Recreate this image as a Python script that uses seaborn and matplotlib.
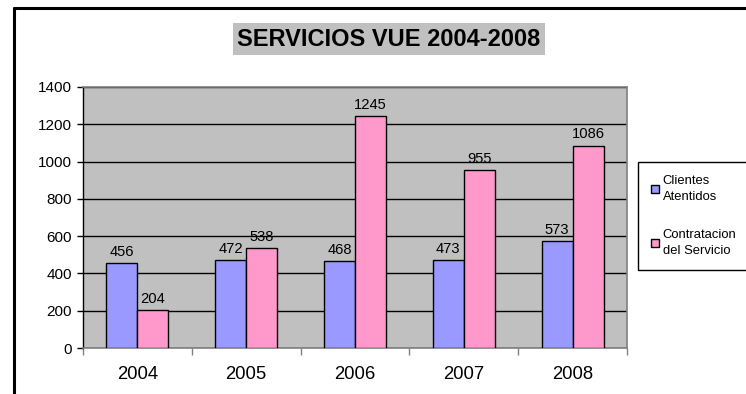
import pandas as pd
import matplotlib
matplotlib.use("Agg")
from matplotlib import pyplot as plt
from matplotlib.patches import Patch
from matplotlib.lines import Line2D
import seaborn as sns

years = ["2004", "2005", "2006", "2007", "2008"]
clientes = [456, 472, 468, 473, 573]
contratacion = [204, 538, 1245, 955, 1086]
series_names = ["Clientes\nAtentidos", "Contratacion\ndel Servicio"]
colors = ["#9999FF", "#FF99CC"]

df = pd.DataFrame({
    "year": years * 2,
    "value": clientes + contratacion,
    "serie": [series_names[0]] * 5 + [series_names[1]] * 5,
})

sns.set_style("white")
plt.rcParams["font.family"] = ["Liberation Sans", "DejaVu Sans"]
plt.rcParams["text.color"] = "black"
plt.rcParams["xtick.color"] = "black"
plt.rcParams["ytick.color"] = "black"

fig = plt.figure(figsize=(7.46, 3.94), dpi=100)
ax = fig.add_axes([83 / 746, 1 - 348 / 394, 544 / 746, 261 / 394])
ax.set_facecolor("#C0C0C0")

sns.barplot(data=df, x="year", y="value", hue="serie", palette=colors,
            saturation=1, width=0.57, edgecolor="black", linewidth=1,
            legend=False, ax=ax, zorder=3)

for c in ax.containers:
    ax.bar_label(c, padding=3, fontsize=10.6, color="black")

ax.set_ylim(0, 1400)
ax.set_yticks(range(0, 1401, 200))
ax.set_xlim(-0.5, 4.5)
ax.grid(axis="y", color="black", linewidth=1, zorder=0)
ax.set_axisbelow(True)
ax.set_xlabel("")
ax.set_ylabel("")

ax.tick_params(axis="y", labelsize=11, length=4, width=1, color="black",
               labelcolor="black", left=True, pad=4)
ax.tick_params(axis="x", which="major", labelsize=13.3, length=0, pad=13,
               labelcolor="black")
ax.set_xticks([i - 0.5 for i in range(6)], minor=True)
ax.tick_params(axis="x", which="minor", length=5, width=1, color="#808080", bottom=True)

for s in ["top", "right", "bottom"]:
    ax.spines[s].set_color("#808080")
    ax.spines[s].set_linewidth(1.2)
ax.spines["left"].set_color("black")
ax.spines["left"].set_linewidth(1)

fig.text(389 / 746, 1 - 39 / 394, "SERVICIOS VUE 2004-2008", ha="center", va="center",
         fontsize=17, fontweight="bold", color="black",
         bbox=dict(facecolor="#C0C0C0", edgecolor="none", boxstyle="square,pad=0.2"))

handles = [Patch(facecolor=col, edgecolor="black", linewidth=1) for col in colors]
leg = fig.legend(handles, series_names, loc="upper left",
                 bbox_to_anchor=(638 / 746, 1 - 162 / 394), fontsize=9.4,
                 frameon=True, fancybox=False, edgecolor="black", framealpha=1,
                 handlelength=0.6, handleheight=0.6, handletextpad=0.3,
                 labelspacing=2.0, borderpad=1.0, borderaxespad=0)
for t in leg.get_texts():
    t.set_linespacing(1.45)
    t.set_color("black")

# black frame around the chart (left and top visible)
fig.add_artist(Line2D([14 / 746, 14 / 746], [0, 1 - 8 / 394], color="black", linewidth=2.2))
fig.add_artist(Line2D([14 / 746, 1], [1 - 8 / 394, 1 - 8 / 394], color="black", linewidth=2.2))

fig.savefig("out.png", dpi=100)
